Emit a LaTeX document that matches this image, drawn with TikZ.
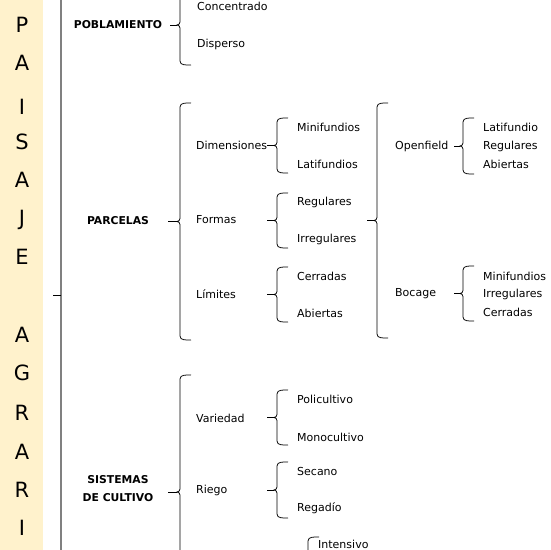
\documentclass[tikz,border=0pt]{standalone}
\usepackage{fontspec}
\setmainfont{DejaVu Sans}
\usetikzlibrary{positioning,calc}

\definecolor{franja}{HTML}{FFF2CC}

\tikzset{
  brk/.style={draw=black, line width=0.75pt},
  item/.style={anchor=west, inner sep=0pt, font=\fontsize{11}{12}\selectfont},
  head/.style={align=center, inner sep=0pt, font=\bfseries\fontsize{10.8}{18}\selectfont},
  letra/.style={inner sep=0pt, font=\fontsize{21}{22}\selectfont},
}

% \llave{name}{x}{top}{bottom}{tip}
\newcommand{\llave}[5]{%
  \pgfmathsetmacro{\llmid}{(#3+#4)/2}
  \draw[brk] (#2+11,#3) to[out=180,in=90] (#2,#3+4) -- (#2,\llmid-3)
     to[out=-90,in=0] (#2-3,\llmid) to[out=0,in=90] (#2,\llmid+3)
     -- (#2,#4-4) to[out=-90,in=180] (#2+11,#4);
  \coordinate (#1) at (#2-#5,\llmid);
  \draw[brk] (#2-3,\llmid) -- (#1);
}

\begin{document}
\begin{tikzpicture}[x=1pt,y=-1pt]
\useasboundingbox (0,0) rectangle (550,550);
\clip (0,0) rectangle (550,550);

% franja de titulo
\fill[franja] (0,-5) rectangle (43,555);
\foreach \l/\y [count=\i] in {P/25,A/63,I/107,S/142,A/180,J/220,E/257,A/335,G/373,R/413,A/452,R/490,I/528}
  \node[letra] (t\i) at (22,\y) {\l};

% llave principal
\draw[gray, line width=2pt] (61,-5) -- (61,555);
\coordinate (raiz) at (53,295);
\draw[brk] (61,295) -- (raiz);

% poblamiento
\node[head] (pobl) at (118,25) {POBLAMIENTO};
\llave{bpobl}{180}{-15}{65}{10}
\node[item] (conc) at (197,6) {Concentrado};
\node[item] (disp) at (197,44) {Disperso};

% parcelas
\node[head] (parc) at (118,221) {PARCELAS};
\llave{bparc}{180}{103}{340}{12}
\node[item] (dime) at (196,145) {Dimensiones};
\node[item] (form) at (196,220) {Formas};
\node[item] (limi) at (196,294) {Límites};

\llave{bdime}{277}{118}{173}{10}
\node[item] (mini) at (297,127) {Minifundios};
\node[item] (lati) at (297,164) {Latifundios};

\llave{bform}{277}{193}{248}{10}
\node[item] (regu) at (297,202) {Regulares};
\node[item] (irre) at (297,239) {Irregulares};

\llave{blimi}{277}{267}{322}{10}
\node[item] (cerr) at (297,276) {Cerradas};
\node[item] (abie) at (297,313) {Abiertas};

\llave{bpais}{377}{103}{338}{10}
\node[item] (open) at (395,146) {Openfield};
\node[item] (boca) at (395,294) {Bocage};

\llave{bopen}{463}{118}{174}{9}
\node[item] (olat) at (483,127) {Latifundio};
\node[item] (oreg) at (483,146) {Regulares};
\node[item] (oabi) at (483,164) {Abiertas};

\llave{bboca}{463}{266}{321}{9}
\node[item] (bmin) at (483,276) {Minifundios};
\node[item] (birr) at (483,294) {Irregulares};
\node[item] (bcer) at (483,312) {Cerradas};

% sistemas de cultivo
\node[head] (sist) at (118,489) {SISTEMAS\\DE CULTIVO};
\llave{bsist}{180}{375}{609}{12}
\node[item] (vari) at (196,418) {Variedad};
\node[item] (rieg) at (196,490) {Riego};

\llave{bvari}{277}{390}{445}{10}
\node[item] (poli) at (297,399) {Policultivo};
\node[item] (mono) at (297,437) {Monocultivo};

\llave{brieg}{277}{462}{518}{10}
\node[item] (seca) at (297,471) {Secano};
\node[item] (rega) at (297,508) {Regadío};

\llave{binte}{308}{537}{592}{10}
\node[item] (inte) at (318,544) {Intensivo};
\end{tikzpicture}
\end{document}
